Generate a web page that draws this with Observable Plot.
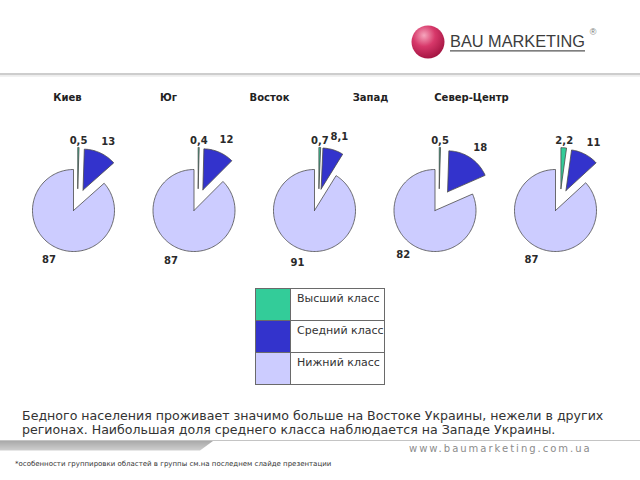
<!DOCTYPE html>
<html><head><meta charset="utf-8">
<script src="https://cdn.jsdelivr.net/npm/d3@7"></script>
<script src="https://cdn.jsdelivr.net/npm/@observablehq/plot@0.6"></script>
<style>
html,body{margin:0;padding:0;}
body{width:640px;height:480px;position:relative;background:#fff;overflow:hidden;font-family:"DejaVu Sans",Verdana,sans-serif;}
#chart{position:absolute;left:0;top:80px;}
#legend{position:absolute;left:255px;top:288px;border-collapse:collapse;}
#legend td{border:1px solid #6a6a6a;height:31px;padding:0;vertical-align:top;}
#legend td.sw{width:34px;}
#legend td.lb{width:94px;padding:3px 0 0 6px;box-sizing:border-box;font-size:11px;color:#333;line-height:13px;}
#note{position:absolute;left:22px;top:408.5px;margin:0;font-size:12.6px;line-height:14.5px;color:#333;white-space:nowrap;}
#www{position:absolute;left:409px;top:443px;font-size:10px;letter-spacing:2px;color:#8c8c8c;white-space:nowrap;}
#foot{position:absolute;left:15px;top:460px;font-size:7px;color:#333;white-space:nowrap;}
#deco{position:absolute;left:0;top:0;}
</style></head><body>
<svg id="deco" width="640" height="480">
  <defs>
    <radialGradient id="ball" cx="0.38" cy="0.3" r="0.75">
      <stop offset="0" stop-color="#f6a6bd"/>
      <stop offset="0.45" stop-color="#d7386a"/>
      <stop offset="1" stop-color="#a0123f"/>
    </radialGradient>
    <linearGradient id="bar" x1="0" y1="0" x2="0" y2="1">
      <stop offset="0" stop-color="#a9a9a9"/>
      <stop offset="1" stop-color="#cfcfcf"/>
    </linearGradient>
  </defs>
  <circle cx="428" cy="42" r="16.5" fill="url(#ball)"/>
  <text x="450" y="46.5" font-family="Liberation Sans, Arial, sans-serif" font-size="16" fill="#3c3c3c" textLength="135" lengthAdjust="spacingAndGlyphs">BAU MARKETING</text>
  <line x1="450" x2="585" y1="50.8" y2="50.8" stroke="#555" stroke-width="1.3"/>
  <text x="593" y="35" font-family="Liberation Sans, Arial, sans-serif" font-size="9" fill="#777" text-anchor="middle">®</text>
  <rect x="0" y="73" width="640" height="2.2" fill="#cdcdcd"/>
  <rect x="0" y="75.2" width="640" height="1.5" fill="#ececec"/>
  <rect x="0" y="440" width="640" height="1" fill="#c4c4c4"/>
  <polygon points="0,441 213,441 200,450.5 0,450.5" fill="url(#bar)"/>
</svg>
<div id="chart"></div>
<table id="legend"></table>
<p id="note">Бедного населения проживает значимо больше на Востоке Украины, нежели в других<br>регионах. Наибольшая доля среднего класса наблюдается на Западе Украины.</p>
<div id="www">www.baumarketing.com.ua</div>
<div id="foot">*особенности группировки областей в группы см.на последнем слайде презентации</div>
<script>
// ---- data ----
const regions = ["Киев", "Юг", "Восток", "Запад", "Север-Центр"];
const classes = ["Высший класс", "Средний класс", "Нижний класс"];
const upperShare = [0.5, 0.4, 0.7, 0.5, 2.2];
const middleShare = [13, 12, 8.1, 18, 11];
const lowerShare = [87, 87, 91, 82, 87];

// ---- style / layout ----
const colors = ["#33cc99", "#3333cc", "#ccccff"];
const W = 640, H = 200;
const R = 41, explode = 22.5, cy = 130, headerY = 17;
const pieX = d3.scalePoint(regions, [73, 555]);
const headX = d3.scalePoint(regions, [67, 471]);
const fmt = v => String(v).replace(".", ",");

const slices = [], labels = [];
regions.forEach((reg, i) => {
  const vals = [upperShare[i], middleShare[i], lowerShare[i]];
  const total = d3.sum(vals);
  let acc = 0;
  vals.forEach((v, j) => {
    const a0 = acc / total * 2 * Math.PI; acc += v;
    const a1 = acc / total * 2 * Math.PI;
    const mid = (a0 + a1) / 2;
    const ex = j < 2 ? explode : 0;
    const dir = j === 0 ? mid + 10 * Math.PI / 180 : mid;
    const vx = pieX(reg) + ex * Math.sin(dir), vy = cy - ex * Math.cos(dir);
    const key = reg + "|" + j;
    const pts = [[vx, vy]];
    const n = Math.max(2, Math.ceil((a1 - a0) / (Math.PI / 90)));
    for (let k = 0; k <= n; k++) {
      const a = a0 + (a1 - a0) * k / n;
      pts.push([vx + R * Math.sin(a), vy - R * Math.cos(a)]);
    }
    pts.push([vx, vy]);
    pts.forEach(p => slices.push({key, cls: classes[j], x: p[0], y: p[1]}));
    const lr = j === 0 ? 1.17 * R : 1.34 * R;
    const la = j === 0 ? mid : mid + 0.04;
    labels.push({x: vx + lr * Math.sin(la), y: vy - lr * Math.cos(la), text: fmt(v)});
  });
});

const chart = Plot.plot({
  width: W, height: H, margin: 0,
  x: {domain: [0, W], range: [0, W], axis: null},
  y: {domain: [0, H], range: [0, H], axis: null},
  color: {domain: classes, range: colors},
  style: {fontFamily: "DejaVu Sans, Verdana, sans-serif", background: "transparent", overflow: "visible"},
  marks: [
    Plot.line(slices, {x: "x", y: "y", z: "key", fill: "cls", stroke: "#4a4a4a", strokeWidth: 0.8}),
    Plot.text(labels, {x: "x", y: "y", text: "text", fontSize: 10, fontWeight: "bold", fill: "#2a2a2a"}),
    Plot.text(regions, {x: d => headX(d), y: () => headerY, text: d => d, fontSize: 10, fontWeight: "bold", fill: "#222"})
  ]
});
document.getElementById("chart").appendChild(chart);

// legend table
const tbl = document.getElementById("legend");
classes.forEach((c, j) => {
  const tr = document.createElement("tr");
  const sw = document.createElement("td"); sw.className = "sw"; sw.style.background = colors[j];
  const lb = document.createElement("td"); lb.className = "lb"; lb.textContent = c;
  tr.appendChild(sw); tr.appendChild(lb); tbl.appendChild(tr);
});
</script>
</body></html>
